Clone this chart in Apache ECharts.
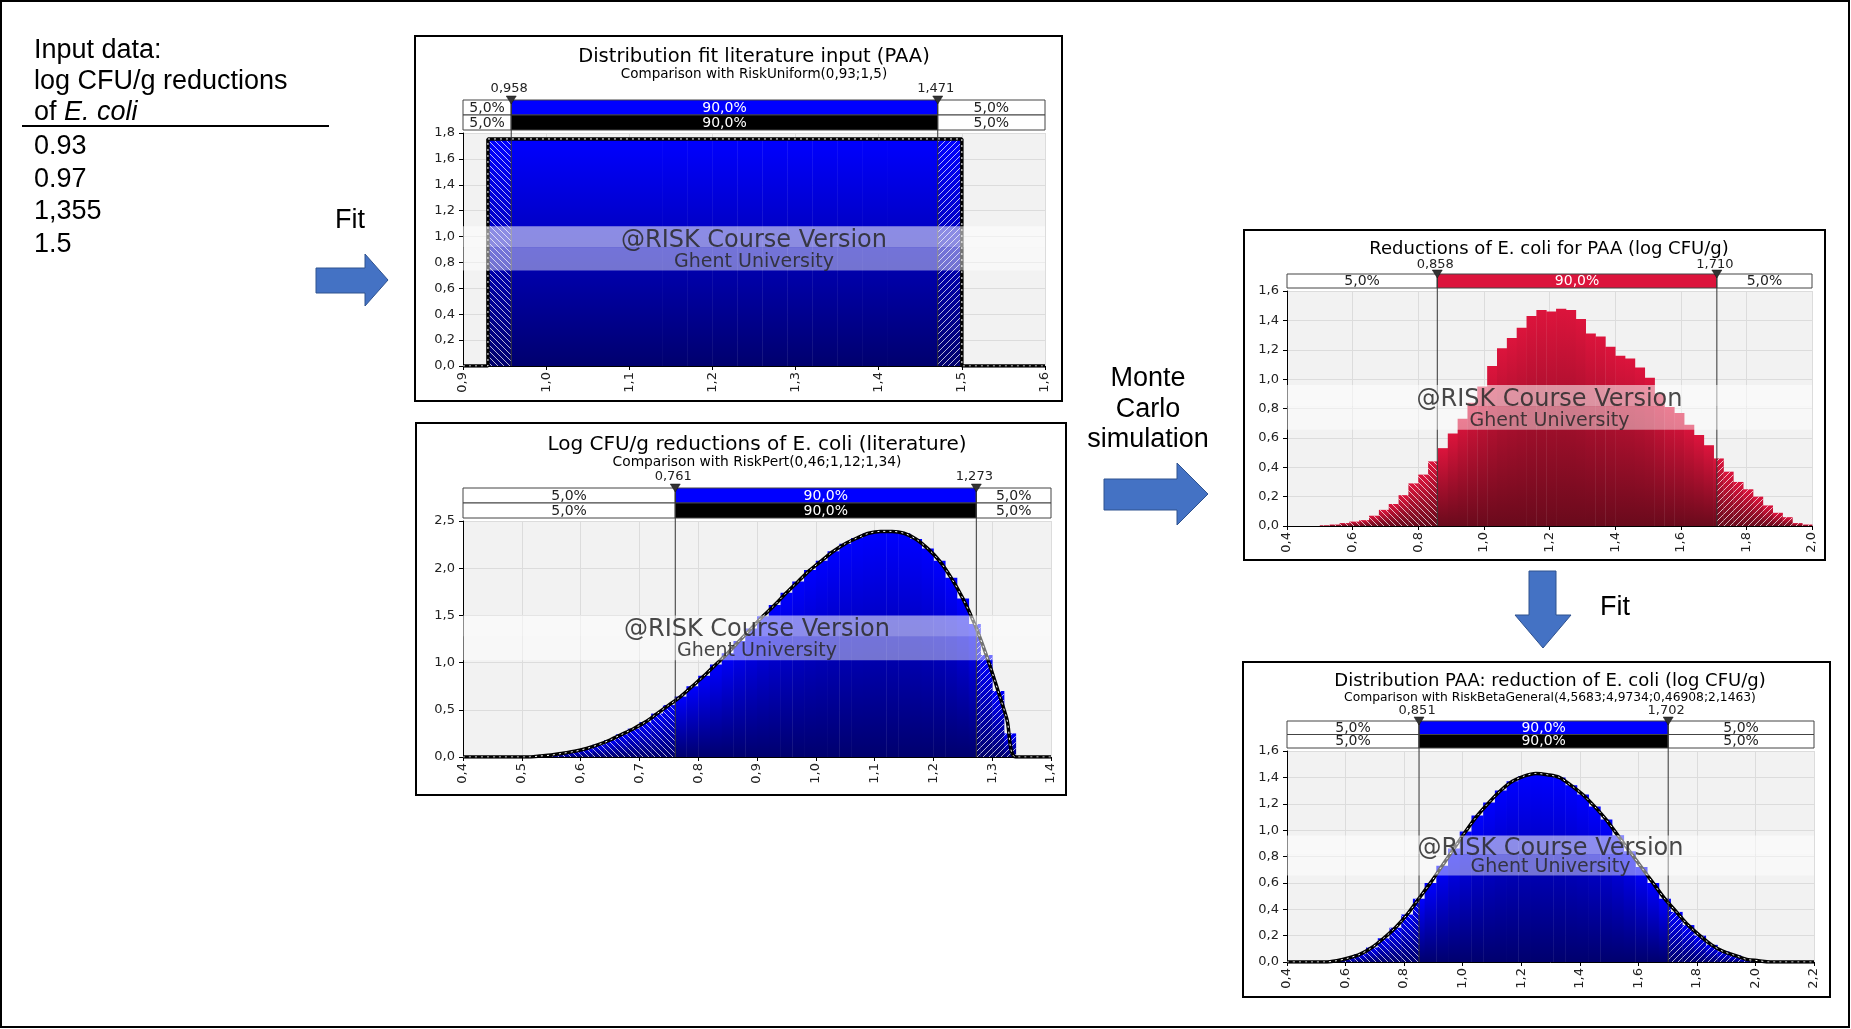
<!DOCTYPE html>
<html><head><meta charset="utf-8">
<script src="https://cdn.jsdelivr.net/npm/echarts@6.0.0/dist/echarts.min.js"></script>
<style>html,body{margin:0;padding:0;background:#fff}#c{width:1851px;height:1029px}</style>
</head><body><div id="c"></div>
<script>
// ================= DATA =================
const inputHeader = ['Input data:', 'log CFU/g reductions'];
const inputHeader3 = ['of ', 'E. coli'];
const inputValues = ['0.93', '0.97', '1,355', '1.5'];

// Panel 1: Distribution fit literature input (PAA)
const p1Title = 'Distribution fit literature input (PAA)';
const p1Sub = 'Comparison with RiskUniform(0,93;1,5)';
const p1BinStart = 0.93, p1BinWidth = 0.03;
const p1Hist = [1.75,1.75,1.75,1.75,1.75,1.75,1.75,1.75,1.75,1.75,1.75,1.75,1.75,1.75,1.75,1.75,1.75,1.75,1.75];
const p1CurveX = [0.9, 0.93, 0.93, 1.5, 1.5, 1.6];
const p1CurveY = [0, 0, 1.754, 1.754, 0, 0];
const p1Markers = [0.958, 1.471];
const p1Pct = ['5,0%', '90,0%', '5,0%'];

// Panel 2: Log CFU/g reductions of E. coli (literature)
const p2Title = 'Log CFU/g reductions of E. coli (literature)';
const p2Sub = 'Comparison with RiskPert(0,46;1,12;1,34)';
const p2BinStart = 0.46, p2BinWidth = 0.02;
const p2Hist = [0.00,0.00,0.00,0.01,0.02,0.04,0.06,0.09,0.13,0.18,0.24,0.30,0.37,0.46,0.55,0.64,0.75,0.86,0.98,1.10,1.23,1.36,1.49,1.61,1.74,1.86,1.98,2.08,2.18,2.26,2.32,2.37,2.39,2.39,2.37,2.31,2.21,2.08,1.90,1.68,1.41,1.08,0.70,0.25];
const p2CurveX = [0.40,0.46,0.47,0.49,0.51,0.53,0.55,0.57,0.59,0.61,0.63,0.65,0.67,0.69,0.71,0.73,0.75,0.77,0.79,0.81,0.83,0.85,0.87,0.89,0.91,0.93,0.95,0.97,0.99,1.01,1.03,1.05,1.07,1.09,1.11,1.13,1.15,1.17,1.19,1.21,1.23,1.25,1.27,1.29,1.31,1.325,1.34,1.40];
const p2CurveY = [0,0,0.00,0.00,0.00,0.01,0.02,0.04,0.06,0.09,0.13,0.18,0.24,0.30,0.37,0.46,0.55,0.64,0.75,0.86,0.98,1.10,1.23,1.36,1.49,1.61,1.74,1.86,1.98,2.08,2.18,2.26,2.32,2.37,2.39,2.39,2.37,2.31,2.21,2.08,1.90,1.68,1.41,1.08,0.70,0.40,0,0];
const p2Markers = [0.761, 1.273];
const p2Pct = ['5,0%', '90,0%', '5,0%'];

// Panel 3: Reductions of E. coli for PAA (log CFU/g)
const p3Title = 'Reductions of E. coli for PAA (log CFU/g)';
const p3BinStart = 0.50, p3BinWidth = 0.03;
const p3Hist = [0.005,0.01,0.02,0.03,0.04,0.07,0.11,0.15,0.21,0.29,0.35,0.44,0.53,0.63,0.73,0.84,0.95,1.09,1.21,1.28,1.35,1.43,1.47,1.46,1.48,1.47,1.41,1.31,1.29,1.22,1.16,1.14,1.08,1.01,0.90,0.81,0.77,0.69,0.62,0.55,0.46,0.37,0.30,0.25,0.20,0.14,0.09,0.06,0.02,0.01];
const p3Markers = [0.858, 1.710];
const p3Pct = ['5,0%', '90,0%', '5,0%'];

// Panel 4: Distribution PAA: reduction of E. coli (log CFU/g)
const p4Title = 'Distribution PAA: reduction of E. coli (log CFU/g)';
const p4Sub = 'Comparison with RiskBetaGeneral(4,5683;4,9734;0,46908;2,1463)';
const p4BinStart = 0.47, p4BinWidth = 0.04;
const p4Hist = [0.00,0.00,0.01,0.03,0.06,0.11,0.18,0.26,0.36,0.48,0.60,0.73,0.86,0.99,1.11,1.21,1.30,1.37,1.41,1.43,1.42,1.40,1.34,1.27,1.18,1.08,0.96,0.84,0.72,0.60,0.48,0.38,0.28,0.20,0.13,0.08,0.05,0.02,0.01,0.00,0.00,0.00];
const p4CurveX = [0.40,0.47,0.49,0.53,0.57,0.61,0.65,0.69,0.73,0.77,0.81,0.85,0.89,0.93,0.97,1.01,1.05,1.09,1.13,1.17,1.21,1.25,1.29,1.33,1.37,1.41,1.45,1.49,1.53,1.57,1.61,1.65,1.69,1.73,1.77,1.81,1.85,1.89,1.93,1.97,2.01,2.05,2.09,2.15,2.20];
const p4CurveY = [0,0,0.00,0.00,0.01,0.03,0.06,0.11,0.18,0.26,0.36,0.48,0.60,0.73,0.86,0.99,1.11,1.21,1.30,1.37,1.41,1.43,1.42,1.40,1.34,1.27,1.18,1.08,0.96,0.84,0.72,0.60,0.48,0.38,0.28,0.20,0.13,0.08,0.05,0.02,0.01,0.00,0.00,0,0];
const p4Markers = [0.851, 1.702];
const p4Pct = ['5,0%', '90,0%', '5,0%'];

const watermark = ['@RISK Course Version', 'Ghent University'];

// ================= HELPERS =================
const FONT = '"DejaVu Sans", Verdana, sans-serif';
const ARIAL = '"Liberation Sans", Arial, sans-serif';
const fmt1 = v => (Math.round(v * 10) / 10).toFixed(1).replace('.', ',');
const fmt3 = v => v.toFixed(3).replace('.', ',');

function hatch(dir) {
  const c = document.createElement('canvas');
  c.width = 6; c.height = 6;
  const g = c.getContext('2d');
  g.strokeStyle = 'rgba(255,255,255,0.7)';
  g.lineWidth = 1;
  g.beginPath();
  if (dir === 'back') {
    g.moveTo(-1, -1); g.lineTo(7, 7);
    g.moveTo(-1, 5); g.lineTo(1, 7);
    g.moveTo(5, -1); g.lineTo(7, 1);
  } else {
    g.moveTo(-1, 7); g.lineTo(7, -1);
    g.moveTo(-1, 1); g.lineTo(1, -1);
    g.moveTo(5, 7); g.lineTo(7, 5);
  }
  g.stroke();
  return c;
}
const hatchL = hatch('back');
const hatchR = hatch('fwd');

function binsData(start, width, vals) {
  return vals.map((v, i) => [start + i * width, start + (i + 1) * width, v]);
}

function histRender(markers, top, bot) {
  return function (params, api) {
    const x0 = api.value(0), x1 = api.value(1), y = api.value(2);
    const a = api.coord([x0, y]), b = api.coord([x1, 0]);
    const h = b[1] - a[1];
    if (h < 0.4) return null;
    const lo = api.coord([markers[0], 0])[0], hi = api.coord([markers[1], 0])[0];
    const grad = new echarts.graphic.LinearGradient(0, 0, 0, 1, [
      { offset: 0, color: top }, { offset: 1, color: bot }]);
    const segs = [[a[0], Math.min(b[0], lo), hatchL], [Math.max(a[0], lo), Math.min(b[0], hi), null], [Math.max(a[0], hi), b[0], hatchR]];
    const children = [];
    segs.forEach(s => {
      const w = s[1] - s[0];
      if (w <= 0) return;
      children.push({ type: 'rect', shape: { x: s[0], y: a[1], width: w + 0.4, height: h }, style: { fill: grad } });
      if (s[2]) children.push({ type: 'rect', shape: { x: s[0], y: a[1], width: w, height: h }, style: { fill: { image: s[2], repeat: 'repeat' } } });
    });
    return { type: 'group', children };
  };
}

function annoRender(markers, pct, rowColors, rowH, gap, lblGap) {
  return function (params, api) {
    const cs = params.coordSys;
    const L = cs.x, R = cs.x + cs.width, B = cs.y + cs.height;
    const lo = api.coord([markers[0], 0])[0], hi = api.coord([markers[1], 0])[0];
    const n = rowColors.length;
    const rowsTop = cs.y - gap - n * rowH;
    const ch = [];
    rowColors.forEach((col, i) => {
      const y = rowsTop + i * rowH;
      const cells = [[L, lo, '#fff', '#222', pct[0]], [lo, hi, col, '#fff', pct[1]], [hi, R, '#fff', '#222', pct[2]]];
      cells.forEach(c => {
        ch.push({ type: 'rect', shape: { x: c[0], y: y, width: c[1] - c[0], height: rowH }, style: { fill: c[2], stroke: '#444', lineWidth: 1 } });
        ch.push({ type: 'text', style: { text: c[4], x: (c[0] + c[1]) / 2, y: y + rowH / 2 + 0.5, fill: c[3], font: '14px ' + FONT, textAlign: 'center', textVerticalAlign: 'middle' } });
      });
    });
    [lo, hi].forEach((m, k) => {
      ch.push({ type: 'line', shape: { x1: m, y1: rowsTop, x2: m, y2: B }, style: { stroke: '#333', lineWidth: 1 } });
      ch.push({ type: 'polygon', shape: { points: [[m - 5, rowsTop - 4], [m + 5, rowsTop - 4], [m, rowsTop + 4]] }, style: { fill: '#333', stroke: '#111', lineWidth: 0.5 } });
      ch.push({ type: 'text', style: { text: fmt3(markers[k]), x: m - 2, y: rowsTop - lblGap, fill: '#222', font: '13px ' + FONT, textAlign: 'center', textVerticalAlign: 'middle' } });
    });
    // watermark band
    const bt = cs.y + cs.height * 0.40, bm = cs.y + cs.height * 0.49, bb = cs.y + cs.height * 0.59;
    ch.push({ type: 'rect', shape: { x: L, y: bt, width: cs.width, height: bm - bt }, style: { fill: 'rgba(255,255,255,0.55)' } });
    ch.push({ type: 'rect', shape: { x: L, y: bm, width: cs.width, height: bb - bm }, style: { fill: 'rgba(255,255,255,0.45)' } });
    const cx = L + cs.width / 2;
    ch.push({ type: 'text', style: { text: watermark[0], x: cx, y: cs.y + cs.height * 0.462, fill: 'rgba(40,40,40,0.85)', font: '24px ' + FONT, textAlign: 'center', textVerticalAlign: 'middle' } });
    ch.push({ type: 'text', style: { text: watermark[1], x: cx, y: cs.y + cs.height * 0.552, fill: 'rgba(40,40,40,0.85)', font: '19px ' + FONT, textAlign: 'center', textVerticalAlign: 'middle' } });
    return { type: 'group', children: ch };
  };
}

function xAx(i, min, max, interval) {
  return {
    type: 'value', gridIndex: i, min, max, interval,
    axisLine: { show: true, onZero: false, lineStyle: { color: '#000', width: 1 } },
    axisTick: { show: true, length: 4, lineStyle: { color: '#000' } },
    axisLabel: { rotate: 90, margin: 6, formatter: fmt1, fontFamily: FONT, fontSize: 13, color: '#222', showMinLabel: true, showMaxLabel: true },
    splitLine: { show: true, lineStyle: { color: '#dcdcdc', width: 1 } }
  };
}
function yAx(i, min, max, interval) {
  return {
    type: 'value', gridIndex: i, min, max, interval,
    axisLine: { show: true, lineStyle: { color: '#000', width: 1 } },
    axisTick: { show: true, length: 4, lineStyle: { color: '#000' } },
    axisLabel: { margin: 8, formatter: fmt1, fontFamily: FONT, fontSize: 13, color: '#222', showMinLabel: true, showMaxLabel: true },
    splitLine: { show: true, lineStyle: { color: '#dcdcdc', width: 1 } }
  };
}
function zip(xs, ys) { return xs.map((x, i) => [x, ys[i]]); }

function curveSeries(i, xs, ys, smooth) {
  const d = zip(xs, ys);
  return [
    { type: 'line', xAxisIndex: i, yAxisIndex: i, data: d, smooth: smooth, showSymbol: false, silent: true, z: 3,
      lineStyle: { color: '#000', width: 3.5 } },
    { type: 'line', xAxisIndex: i, yAxisIndex: i, data: d, smooth: smooth, showSymbol: false, silent: true, z: 3,
      lineStyle: { color: '#fff', width: 1, type: [2, 4] } }
  ];
}

const BLUE_T = '#0000ff', BLUE_B = '#00006e', RED_T = '#dc143c', RED_B = '#6a0a1c';

const series = [
  { type: 'custom', xAxisIndex: 0, yAxisIndex: 0, z: 2, silent: true, renderItem: histRender(p1Markers, BLUE_T, BLUE_B), data: binsData(p1BinStart, p1BinWidth, p1Hist), encode: { x: [0, 1], y: 2 } },
  ...curveSeries(0, p1CurveX, p1CurveY, false),
  { type: 'custom', xAxisIndex: 0, yAxisIndex: 0, z: 5, silent: true, renderItem: annoRender(p1Markers, p1Pct, ['#0000ff', '#000000'], 15, 3, 11), data: [[1, 0]] },

  { type: 'custom', xAxisIndex: 1, yAxisIndex: 1, z: 2, silent: true, renderItem: histRender(p2Markers, BLUE_T, BLUE_B), data: binsData(p2BinStart, p2BinWidth, p2Hist), encode: { x: [0, 1], y: 2 } },
  ...curveSeries(1, p2CurveX, p2CurveY, 0.3),
  { type: 'custom', xAxisIndex: 1, yAxisIndex: 1, z: 5, silent: true, renderItem: annoRender(p2Markers, p2Pct, ['#0000ff', '#000000'], 15, 3, 11), data: [[1, 0]] },

  { type: 'custom', xAxisIndex: 2, yAxisIndex: 2, z: 2, silent: true, renderItem: histRender(p3Markers, RED_T, RED_B), data: binsData(p3BinStart, p3BinWidth, p3Hist), encode: { x: [0, 1], y: 2 } },
  { type: 'custom', xAxisIndex: 2, yAxisIndex: 2, z: 5, silent: true, renderItem: annoRender(p3Markers, p3Pct, ['#dc143c'], 14, 3, 9), data: [[1, 0]] },

  { type: 'custom', xAxisIndex: 3, yAxisIndex: 3, z: 2, silent: true, renderItem: histRender(p4Markers, BLUE_T, BLUE_B), data: binsData(p4BinStart, p4BinWidth, p4Hist), encode: { x: [0, 1], y: 2 } },
  ...curveSeries(3, p4CurveX, p4CurveY, 0.3),
  { type: 'custom', xAxisIndex: 3, yAxisIndex: 3, z: 5, silent: true, renderItem: annoRender(p4Markers, p4Pct, ['#0000ff', '#000000'], 13.5, 3, 10), data: [[1, 0]] }
];

function txt(t, x, y, size, font, align, extra) {
  return Object.assign({ type: 'text', silent: true, style: { text: t, x: x, y: y, fill: '#000', font: size + 'px ' + font, textAlign: align || 'left', textVerticalAlign: 'middle' } }, extra || {});
}
function box(x, y, w, h) {
  return { type: 'rect', silent: true, z: 10, shape: { x: x, y: y, width: w, height: h }, style: { fill: 'none', stroke: '#000', lineWidth: 2 } };
}
const arrowStyle = { fill: '#4472C4', stroke: '#2F528F', lineWidth: 1 };

const graphic = [
  { type: 'rect', silent: true, z: 10, shape: { x: 1, y: 1, width: 1848, height: 1026 }, style: { fill: 'none', stroke: '#000', lineWidth: 2 } },
  txt(inputHeader[0], 34, 51, 27, ARIAL),
  txt(inputHeader[1], 34, 82, 27, ARIAL),
  txt(inputHeader3[0], 34, 112.5, 27, ARIAL),
  { type: 'text', silent: true, style: { text: inputHeader3[1], x: 64, y: 112.5, fill: '#000', font: 'italic 27px ' + ARIAL, textAlign: 'left', textVerticalAlign: 'middle' } },
  { type: 'line', silent: true, shape: { x1: 22, y1: 126, x2: 329, y2: 126 }, style: { stroke: '#000', lineWidth: 2 } },
  txt(inputValues[0], 34, 147, 27, ARIAL),
  txt(inputValues[1], 34, 180, 27, ARIAL),
  txt(inputValues[2], 34, 212, 27, ARIAL),
  txt(inputValues[3], 34, 245, 27, ARIAL),
  txt('Fit', 350, 221, 27, ARIAL, 'center'),
  { type: 'polygon', silent: true, shape: { points: [[316, 268], [365, 268], [365, 254], [388, 280], [365, 306], [365, 293], [316, 293]] }, style: arrowStyle },
  txt('Monte', 1148, 378.5, 27, ARIAL, 'center'),
  txt('Carlo', 1148, 409.5, 27, ARIAL, 'center'),
  txt('simulation', 1148, 439.5, 27, ARIAL, 'center'),
  { type: 'polygon', silent: true, shape: { points: [[1104, 479], [1177, 479], [1177, 463], [1208, 494], [1177, 525], [1177, 510], [1104, 510]] }, style: arrowStyle },
  { type: 'polygon', silent: true, shape: { points: [[1529, 571], [1556, 571], [1556, 615], [1571, 615], [1543, 648], [1515, 615], [1529, 615]] }, style: arrowStyle },
  txt('Fit', 1615, 607.5, 27, ARIAL, 'center'),
  box(415, 36, 647, 365),
  box(416, 423, 650, 372),
  box(1244, 230, 581, 330),
  box(1243, 662, 587, 335),
  txt(p1Title, 754, 57, 19.5, FONT, 'center'),
  txt(p1Sub, 754, 74.5, 13.5, FONT, 'center'),
  txt(p2Title, 757, 445, 20, FONT, 'center'),
  txt(p2Sub, 757, 462, 13.8, FONT, 'center'),
  txt(p3Title, 1549, 249, 18, FONT, 'center'),
  txt(p4Title, 1550, 681, 18, FONT, 'center'),
  txt(p4Sub, 1550, 697.5, 12.3, FONT, 'center')
];

const chart = echarts.init(document.getElementById('c'), null, { renderer: 'canvas' });
chart.setOption({
  animation: false,
  backgroundColor: '#fff',
  grid: [
    { left: 463, top: 133, width: 582, height: 233, show: true, backgroundColor: '#f2f2f2', borderWidth: 0 },
    { left: 463, top: 521, width: 588, height: 236, show: true, backgroundColor: '#f2f2f2', borderWidth: 0 },
    { left: 1287, top: 291, width: 525, height: 235, show: true, backgroundColor: '#f2f2f2', borderWidth: 0 },
    { left: 1287, top: 751, width: 527, height: 211, show: true, backgroundColor: '#f2f2f2', borderWidth: 0 }
  ],
  xAxis: [xAx(0, 0.9, 1.6, 0.1), xAx(1, 0.4, 1.4, 0.1), xAx(2, 0.4, 2.0, 0.2), xAx(3, 0.4, 2.2, 0.2)],
  yAxis: [yAx(0, 0, 1.8, 0.2), yAx(1, 0, 2.5, 0.5), yAx(2, 0, 1.6, 0.2), yAx(3, 0, 1.6, 0.2)],
  series: series,
  graphic: graphic
});
</script>
</body></html>
